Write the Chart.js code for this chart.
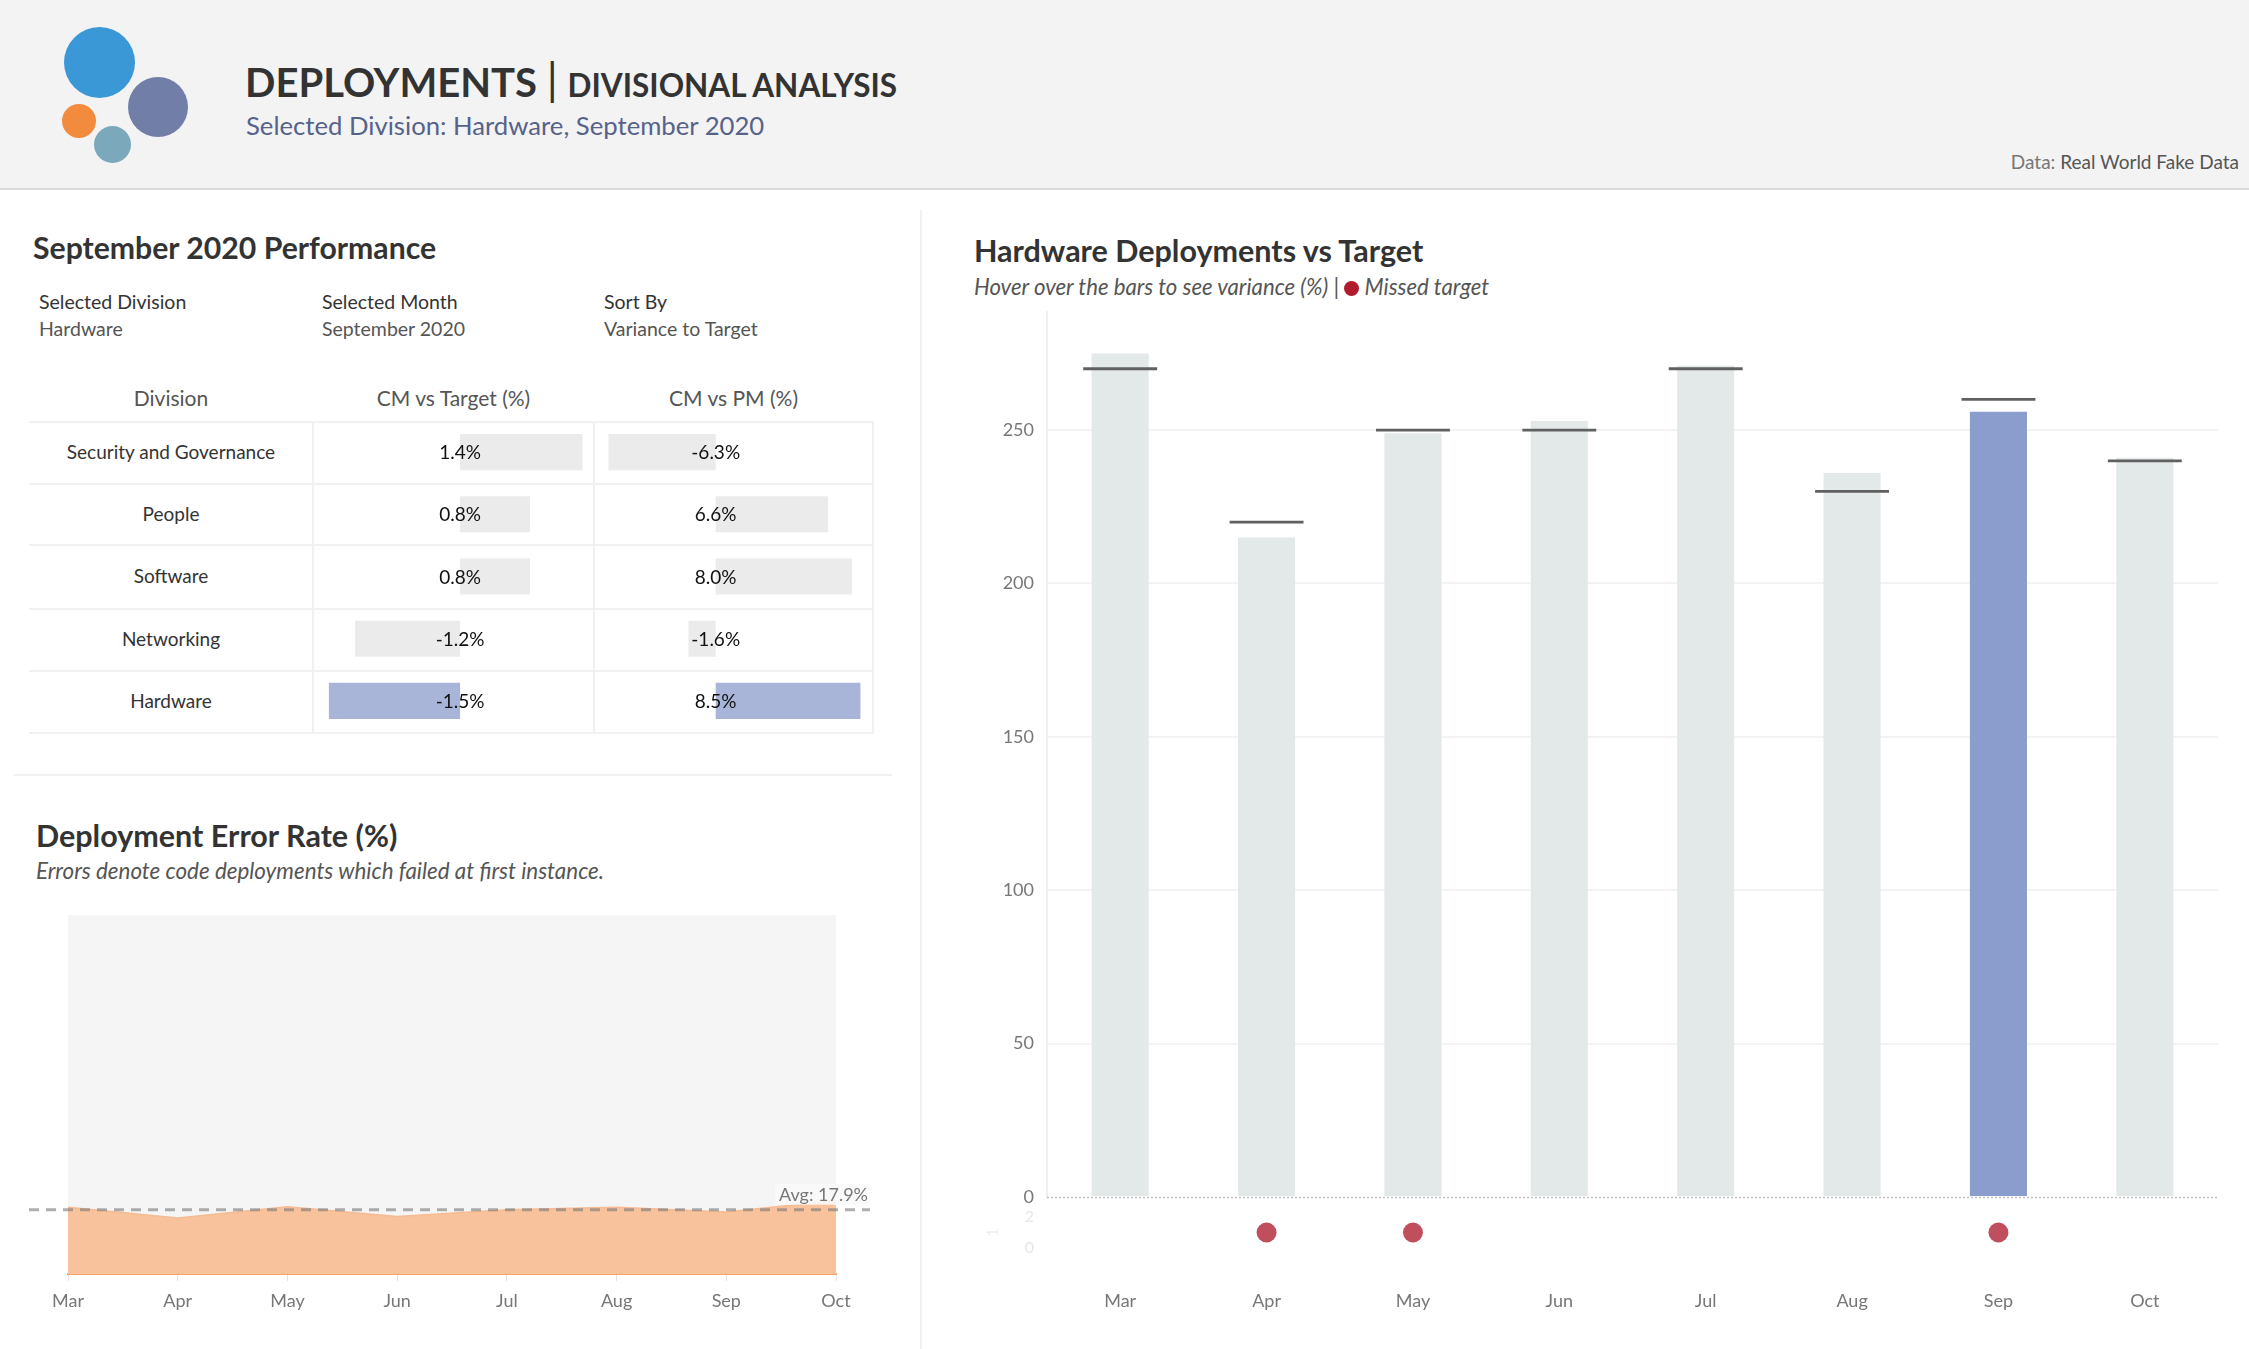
<!DOCTYPE html>
<html>
<head>
<meta charset="utf-8">
<script src="https://cdn.jsdelivr.net/npm/chart.js@4.4.1/dist/chart.umd.min.js"></script>
<style>
  body { margin:0; width:2249px; height:1349px; overflow:hidden; background:#fff; font-family:Lato, "Open Sans", sans-serif; color:#333; }
  .abs { position:absolute; }
  .hdr { left:0; top:0; width:2249px; height:188px; background:#f3f3f3; border-bottom:2px solid #dcdcdc; }
  .dot { position:absolute; border-radius:50%; }
  .t { position:absolute; white-space:nowrap; }
  .hline { position:absolute; height:2px; background:#f1f1f1; }
  .vline { position:absolute; width:2px; background:#f1f1f1; }
</style>
</head>
<body>
<div class="abs hdr"></div>
<div class="dot" style="left:64px;top:27px;width:71px;height:71px;background:#3a98d6"></div>
<div class="dot" style="left:128px;top:77px;width:60px;height:60px;background:#717fa8"></div>
<div class="dot" style="left:62px;top:104px;width:34px;height:34px;background:#f28b3d"></div>
<div class="dot" style="left:94px;top:126px;width:37px;height:37px;background:#7ba8ba"></div>
<div class="t" style="left:245px;top:54px;font-size:40px;font-weight:700;color:#333">DEPLOYMENTS <span style="font-weight:400;font-size:44px;position:relative;top:-2px">|</span> <span style="font-size:31.5px">DIVISIONAL ANALYSIS</span></div>
<div class="t" style="left:246px;top:110px;font-size:25.7px;color:#56628a">Selected Division: Hardware, September 2020</div>
<div class="t" style="right:10px;top:150px;font-size:19px;color:#777">Data: <span style="color:#555">Real World Fake Data</span></div>

<!-- left panel -->
<div class="t" style="left:33px;top:229px;font-size:30.2px;font-weight:700;color:#333">September 2020 Performance</div>
<div class="t" style="left:39px;top:290px;font-size:19.5px;color:#333">Selected Division</div>
<div class="t" style="left:39px;top:317px;font-size:19.5px;color:#555">Hardware</div>
<div class="t" style="left:322px;top:290px;font-size:19.5px;color:#333">Selected Month</div>
<div class="t" style="left:322px;top:317px;font-size:19.5px;color:#555">September 2020</div>
<div class="t" style="left:604px;top:290px;font-size:19.5px;color:#333">Sort By</div>
<div class="t" style="left:604px;top:317px;font-size:19.5px;color:#555">Variance to Target</div>

<div class="t" style="left:29px;width:284px;text-align:center;top:385px;font-size:21px;color:#555">Division</div>
<div class="t" style="left:313px;width:281px;text-align:center;top:385px;font-size:21px;color:#555">CM vs Target (%)</div>
<div class="t" style="left:594px;width:279px;text-align:center;top:385px;font-size:21px;color:#555">CM vs PM (%)</div>
<div id="rowLabels"></div>
<div id="gridLines"></div>
<canvas id="cTarget" class="abs" style="left:314px;top:421px"></canvas>
<canvas id="cPm" class="abs" style="left:595px;top:421px"></canvas>

<div class="hline" style="left:14px;top:774px;width:878px"></div>
<div class="vline" style="left:920px;top:210px;height:1139px"></div>

<div class="t" style="left:36px;top:817px;font-size:30.5px;font-weight:700;color:#333">Deployment Error Rate (%)</div>
<div class="t" style="left:36px;top:857px;font-size:22.4px;font-style:italic;color:#555">Errors denote code deployments which failed at first instance.</div>
<canvas id="cErr" class="abs" style="left:0px;top:890px"></canvas>

<!-- right panel -->
<div class="t" style="left:974px;top:232px;font-size:30.5px;font-weight:700;color:#333">Hardware Deployments vs Target</div>
<div class="t" style="left:974px;top:273px;font-size:22.2px;font-style:italic;color:#555">Hover over the bars to see variance (%) | <span style="display:inline-block;width:15px;height:15px;border-radius:50%;background:#b01c2e;vertical-align:-1px"></span> Missed target</div>
<canvas id="cDep" class="abs" style="left:921px;top:300px"></canvas>
<canvas id="cMiss" class="abs" style="left:921px;top:1200px"></canvas>

<script>
var divisions = ['Security and Governance', 'People', 'Software', 'Networking', 'Hardware'];
var cmVsTarget = [1.4, 0.8, 0.8, -1.2, -1.5];
var cmVsPm = [-6.3, 6.6, 8.0, -1.6, 8.5];

var months = ['Mar', 'Apr', 'May', 'Jun', 'Jul', 'Aug', 'Sep', 'Oct'];
var deployments = [275, 215, 249, 253, 271, 236, 256, 241];
var targets = [270, 220, 250, 250, 270, 230, 260, 240];
var depTicks = [0, 50, 100, 150, 200, 250];

var errorRate = [18.6, 15.6, 18.7, 16.0, 17.9, 18.6, 17.3, 20.5];

var selectedDivision = 'Hardware';
var selectedMonth = 'Sep';
var FONT = 'Lato, "Open Sans", sans-serif';

Chart.defaults.font.family = FONT;
Chart.defaults.animation = false;
Chart.defaults.plugins.legend.display = false;
Chart.defaults.plugins.tooltip.enabled = false;

function sizeCanvas(id, w, h) {
	var c = document.getElementById(id);
	c.style.width = w + 'px';
	c.style.height = h + 'px';
	c.width = w;
	c.height = h;
	return c;
}

// fixed-width y axis, no extra label padding
function fixAxis(w) {
	return function(s) {
		s.width = w;
		s.paddingTop = 0;
		s.paddingBottom = 0;
	};
}

// table grid + row labels
var rowTops = [421, 483, 544, 608, 670, 732];
var gl = '';
for (var i = 0; i < rowTops.length; i++) {
	gl += '<div class="hline" style="left:29px;width:845px;top:' + rowTops[i] + 'px"></div>';
}
[312, 593, 872].forEach(function(x){
	gl += '<div class="vline" style="left:' + x + 'px;top:421px;height:313px"></div>';
});
document.getElementById('gridLines').innerHTML = gl;
var rl = '';
for (var i = 0; i < divisions.length; i++) {
	var mid = (rowTops[i] + rowTops[i+1]) / 2;
	rl += '<div class="t" style="left:29px;width:284px;text-align:center;top:' + (mid - 12) + 'px;font-size:19px;color:#333">' + divisions[i] + '</div>';
}
document.getElementById('rowLabels').innerHTML = rl;

// value label at zero for table bars
var zeroLabel = {
	id: 'zeroLabel',
	afterDatasetsDraw: function(chart) {
		var ctx = chart.ctx;
		var x0 = chart.scales.x.getPixelForValue(0);
		var meta = chart.getDatasetMeta(0);
		ctx.save();
		ctx.font = '19px ' + FONT;
		ctx.fillStyle = '#111';
		ctx.textAlign = 'center';
		ctx.textBaseline = 'middle';
		meta.data.forEach(function(bar, i){
			ctx.fillText(chart.data.datasets[0].data[i].toFixed(1) + '%', x0, bar.y + 1);
		});
		ctx.restore();
	}
};

function tableChart(id, w, values, min, max) {
	var c = sizeCanvas(id, w, 311);
	var colors = divisions.map(function(d){ return d === selectedDivision ? '#a8b5d8' : '#ebebeb'; });
	return new Chart(c, {
		type: 'bar',
		data: { labels: divisions, datasets: [{ data: values, backgroundColor: colors, barPercentage: 1, categoryPercentage: 0.58 }] },
		options: {
			responsive: false,
			indexAxis: 'y',
			layout: { padding: 0 },
			scales: {
				x: { display: false, min: min, max: max },
				y: { display: false }
			}
		},
		plugins: [zeroLabel]
	});
}
tableChart('cTarget', 279, cmVsTarget, -1.67, 1.52);
tableChart('cPm', 277, cmVsPm, -7.09, 9.18);

// error rate area chart
var avgErr = errorRate.reduce(function(a, b){ return a + b; }, 0) / errorRate.length;
var errPlugin = {
	id: 'errPlugin',
	beforeDraw: function(chart) {
		var a = chart.chartArea, ctx = chart.ctx;
		ctx.save();
		ctx.fillStyle = '#f5f5f5';
		ctx.fillRect(a.left, a.top, a.right - a.left, a.bottom - a.top);
		ctx.restore();
	},
	afterDatasetsDraw: function(chart) {
		var ctx = chart.ctx;
		var y = chart.scales.y.getPixelForValue(avgErr);
		ctx.save();
		ctx.strokeStyle = 'rgba(120,120,120,0.6)';
		ctx.lineWidth = 3;
		ctx.setLineDash([10, 7]);
		ctx.beginPath();
		ctx.moveTo(29, y);
		ctx.lineTo(870, y);
		ctx.stroke();
		ctx.setLineDash([]);
		ctx.font = '18px ' + FONT;
		ctx.textAlign = 'right';
		ctx.textBaseline = 'bottom';
		var txt = 'Avg: ' + avgErr.toFixed(1) + '%';
		var tw = ctx.measureText(txt).width;
		ctx.fillStyle = 'rgba(250,250,250,0.9)';
		ctx.fillRect(868 - tw - 4, y - 26, tw + 6, 21);
		ctx.fillStyle = '#777';
		ctx.fillText(txt, 868, y - 6);
		ctx.restore();
	}
};
new Chart(sizeCanvas('cErr', 921, 440), {
	type: 'line',
	data: {
		labels: months,
		datasets: [{
			data: errorRate,
			fill: 'origin',
			backgroundColor: '#f7c29c',
			borderColor: '#f6bb92',
			borderWidth: 1.5,
			pointRadius: 0,
			tension: 0
		}]
	},
	options: {
		responsive: false,
		layout: { padding: { left: 68, right: 85, top: 25, bottom: 0 } },
		scales: {
			x: {
				offset: false,
				afterFit: function(s){ s.height = 56; },
				grid: { drawOnChartArea: false, tickLength: 7, color: '#e4e4e4' },
				border: { color: '#f4a46c', width: 2 },
				ticks: { color: '#777', font: { size: 18 }, padding: 9 }
			},
			y: { display: false, min: 0, max: 100 }
		}
	},
	plugins: [errPlugin]
});

// deployments vs target
var zeroLine = {
	id: 'zeroLine',
	afterDraw: function(chart) {
		var a = chart.chartArea, ctx = chart.ctx;
		var y = chart.scales.y.getPixelForValue(0);
		ctx.save();
		ctx.strokeStyle = '#bdbdbd';
		ctx.lineWidth = 1.5;
		ctx.setLineDash([2, 2]);
		ctx.beginPath();
		ctx.moveTo(a.left, y + 0.5);
		ctx.lineTo(a.right, y + 0.5);
		ctx.stroke();
		ctx.restore();
	}
};
var barColors = months.map(function(m){ return m === selectedMonth ? '#8b9dcc' : '#e3e9e9'; });
new Chart(sizeCanvas('cDep', 1328, 912), {
	type: 'bar',
	data: {
		labels: months,
		datasets: [
			{
				data: targets.map(function(t){ return [t - 0.45, t + 0.45]; }),
				backgroundColor: '#606060',
				barPercentage: 0.505,
				categoryPercentage: 1,
				grouped: false,
				order: 0
			},
			{
				data: deployments,
				backgroundColor: barColors,
				barPercentage: 0.39,
				categoryPercentage: 1,
				grouped: false,
				order: 1
			}
		]
	},
	options: {
		responsive: false,
		layout: { padding: { left: 0, right: 31, top: 12, bottom: 15 } },
		scales: {
			x: { display: false },
			y: {
				min: 0,
				max: 288.5,
				afterFit: fixAxis(126),
				afterBuildTicks: function(s){ s.ticks = depTicks.map(function(v){ return { value: v }; }); },
				grid: {
					drawTicks: false,
					color: function(c){ return c.tick && c.tick.value === 0 ? 'rgba(0,0,0,0)' : '#f3f3f3'; },
					lineWidth: 2
				},
				border: { color: '#f0f0f0', width: 2 },
				ticks: { color: '#777', font: { size: 18 }, padding: 13 }
			}
		}
	},
	plugins: [zeroLine]
});

// missed target dots
var missed = deployments.map(function(v, i){ return v < targets[i] ? 1 : null; });
new Chart(sizeCanvas('cMiss', 1328, 140), {
	type: 'line',
	data: {
		labels: months,
		datasets: [{
			data: missed,
			showLine: false,
			pointRadius: 10,
			pointBackgroundColor: '#bf4f5d',
			pointBorderWidth: 0
		}]
	},
	options: {
		responsive: false,
		layout: { padding: { left: 0, right: 31, top: 17, bottom: 0 } },
		scales: {
			x: {
				offset: true,
				afterFit: function(s){ s.height = 92; },
				grid: { display: false, drawTicks: false },
				border: { display: false },
				ticks: { color: '#777', font: { size: 18 }, padding: 42 }
			},
			y: {
				min: 0,
				max: 2,
				afterFit: fixAxis(126),
				afterBuildTicks: function(s){ s.ticks = [{ value: 0 }, { value: 2 }]; },
				grid: { display: false, drawTicks: false },
				border: { display: false },
				title: { display: true, text: '1', color: '#eeeeee', font: { size: 16 }, padding: { top: 62, bottom: 0 } },
				ticks: { color: '#e6e6e6', font: { size: 16 }, padding: 13 }
			}
		}
	}
});
</script>
</body>
</html>
